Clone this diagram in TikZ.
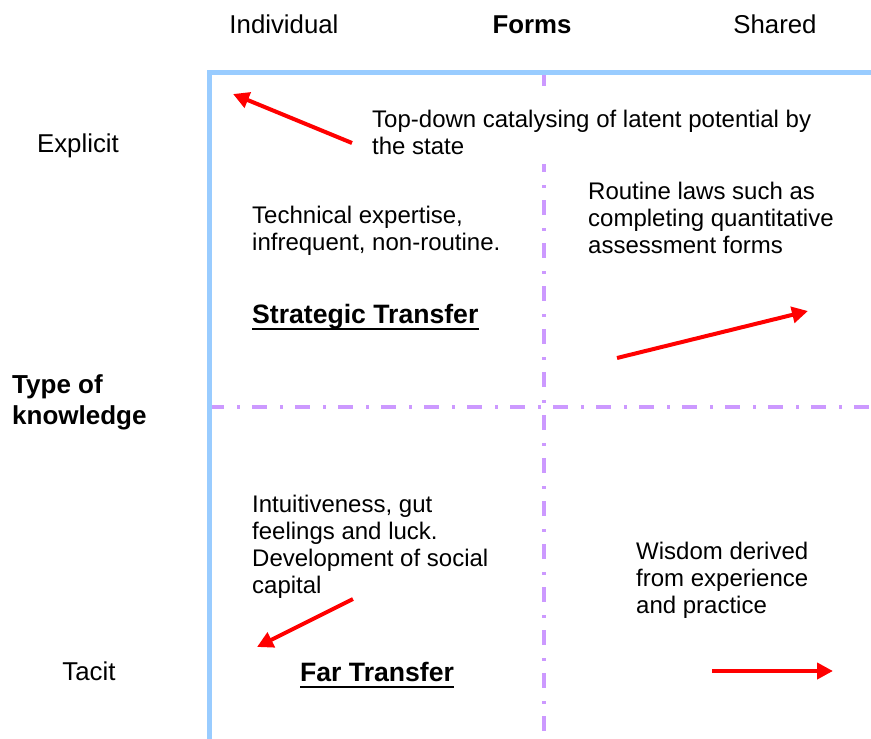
\documentclass[tikz,border=0pt]{standalone}
\usepackage{fontspec}
\setmainfont{Liberation Sans}
\usetikzlibrary{arrows.meta}
\definecolor{axisblue}{HTML}{99CCFF}
\definecolor{gridpurple}{HTML}{CC99FF}
\definecolor{arrred}{HTML}{FF0000}
\newcommand{\topstrut}{\rule{0pt}{18pt}}
\begin{document}
\begin{tikzpicture}[x=1pt,y=-1pt,
  hdr/.style={font=\fontsize{25.8}{30}\selectfont, inner sep=0pt, anchor=base},
  hdrbold/.style={font=\bfseries\fontsize{25.8}{30}\selectfont, inner sep=0pt, anchor=base},
  body/.style={font=\fontsize{24}{27}\selectfont, inner sep=0pt, anchor=north west, align=left},
  title/.style={font=\bfseries\fontsize{26.6}{31}\selectfont, inner sep=0pt, anchor=base west},
  uline/.style={draw=black, line width=2.2pt},
  axis/.style={draw=axisblue, line width=5pt, line join=miter},
  grid/.style={draw=gridpurple, line width=3.3pt, dash pattern=on 15pt off 13pt on 3pt off 12pt},
  redarrow/.style={draw=arrred, line width=4pt, -{Triangle[length=16pt,width=16pt]}}]
\useasboundingbox (0,0) rectangle (871,739);
% grid lines
\draw[grid] (544,71) -- (544,739);
\draw[grid] (209,407) -- (871,407);
% axes
\draw[axis] (871,72) -- (209,72) -- (209,739);
% headers
\node[hdr] (ind) at (284,33) {Individual};
\node[hdrbold] (forms) at (532,33) {Forms};
\node[hdr] (shared) at (775,33) {Shared};
\node[hdr] (expl) at (78,152) {Explicit};
\node[hdr] (tacit) at (89,680) {Tacit};
\node[font=\bfseries\fontsize{26}{31}\selectfont, inner sep=0pt, anchor=north west, align=left] (tok) at (12,374) {\rule{0pt}{19pt}Type of\\knowledge};
% texts
\node[body, fill=white, inner xsep=6pt] (topdown) at (366,90) {\rule{0pt}{37pt}Top-down catalysing of latent potential by\\the state\rule[-10pt]{0pt}{0pt}};
\node[body] (tech) at (252,205) {\topstrut Technical expertise,\\infrequent, non-routine.};
\node[title] (strat) at (252,323) {Strategic Transfer};
\draw[uline] ([yshift=-6pt]strat.base west) -- ([yshift=-6pt]strat.base east);
\node[body] (routine) at (588,181) {\topstrut Routine laws such as\\completing quantitative\\assessment forms};
\node[body] (intuit) at (252,494) {\topstrut Intuitiveness, gut\\feelings and luck.\\Development of social\\capital};
\node[body] (wisdom) at (636,541) {\topstrut Wisdom derived\\from experience\\and practice};
\node[title] (far) at (300,681) {Far Transfer};
\draw[uline] ([yshift=-6pt]far.base west) -- ([yshift=-6pt]far.base east);
% arrows
\coordinate (a1s) at (352,143); \coordinate (a1e) at (233,94);
\coordinate (a2s) at (617,358); \coordinate (a2e) at (808,311);
\coordinate (a3s) at (353,599); \coordinate (a3e) at (257,647);
\coordinate (a4s) at (712,671); \coordinate (a4e) at (833,671);
\draw[redarrow] (a1s) -- (a1e);
\draw[redarrow] (a2s) -- (a2e);
\draw[redarrow] (a3s) -- (a3e);
\draw[redarrow] (a4s) -- (a4e);
\end{tikzpicture}
\end{document}
